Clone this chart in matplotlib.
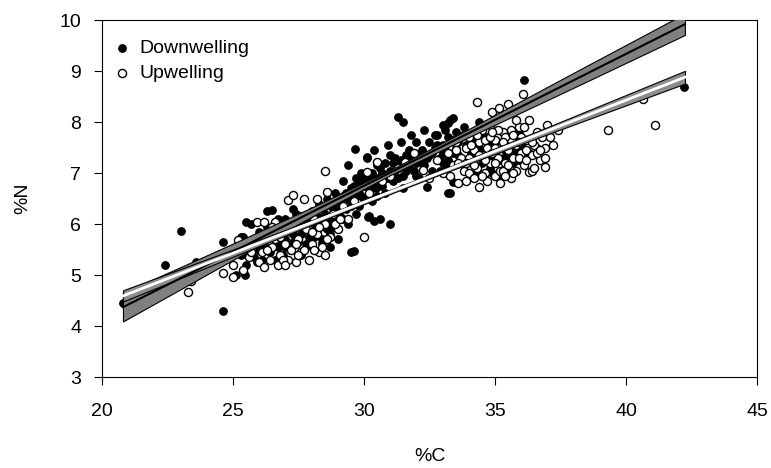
import matplotlib
matplotlib.use("Agg")
import matplotlib.pyplot as plt

plt.rcParams['font.family'] = ['Liberation Sans', 'DejaVu Sans']

# downwelling samples (%C, %N)
down_c = [20.8, 22.4, 23.0, 23.6, 24.1, 24.6, 24.6, 24.9, 25.1, 25.2, 25.3, 25.4, 25.5, 25.6, 25.7,
          25.8, 25.9, 26.0, 26.0, 26.1, 26.2, 26.3, 26.3, 26.4, 26.5, 26.6, 26.6, 26.7, 26.8, 26.9,
          27.0, 27.0, 27.1, 27.2, 27.3, 27.3, 27.4, 27.5, 27.6, 27.6, 27.7, 27.8, 27.9, 28.0, 28.0,
          28.1, 28.2, 28.3, 28.3, 28.4, 28.5, 28.5, 28.6, 28.7, 28.7, 28.8, 28.9, 28.9, 29.0, 29.0,
          29.1, 29.2, 29.2, 29.3, 29.4, 29.4, 29.5, 29.5, 29.6, 29.7, 29.7, 29.8, 29.8, 29.9, 30.0,
          30.0, 30.1, 30.1, 30.2, 30.2, 30.3, 30.4, 30.4, 30.5, 30.5, 30.6, 30.6, 30.7, 30.8, 30.8,
          30.9, 31.0, 31.0, 31.1, 31.2, 31.3, 31.3, 31.4, 31.5, 31.5, 31.6, 31.7, 31.8, 31.9, 32.0,
          32.0, 32.1, 32.2, 32.3, 32.4, 32.5, 32.6, 32.7, 32.8, 32.9, 33.0, 33.0, 33.1, 33.2, 33.2,
          33.3, 33.4, 33.5, 33.6, 33.8, 34.0, 34.1, 34.2, 34.3, 34.4, 34.5, 34.6, 34.7, 34.8, 34.9,
          35.0, 35.1, 35.2, 35.3, 35.4, 35.5, 35.6, 35.7, 35.8, 35.9, 36.0, 36.1, 36.2, 36.4, 36.6,
          37.0, 42.2,
          26.2, 26.8, 27.2, 27.5, 27.8, 28.1, 28.4, 28.6, 28.8, 29.1, 29.3, 29.6, 29.9, 30.2, 30.3,
          30.6, 30.9, 31.1, 31.3, 31.6, 31.8, 32.1, 32.3, 32.6, 32.8, 33.1, 33.4, 33.6, 33.9, 34.1,
          34.4, 34.7, 35.0, 35.3, 35.6, 35.9, 36.3, 34.3, 34.9, 35.5, 33.0, 32.4, 33.3, 33.4, 31.5,
          30.15, 30.4, 29.6, 28.7, 28.4, 29.66, 30.1, 33.4, 33.2, 33.1, 22.5, 23.9, 25.46, 25.5, 26.5,
          25.3]
down_n = [4.45, 5.2, 5.87, 5.25, 5.3, 4.3, 5.65, 5.45, 5.0, 5.6, 5.4, 5.75, 5.2, 5.55, 6.0,
          5.35, 5.7, 5.5, 5.85, 5.3, 5.6, 5.95, 6.25, 5.45, 5.75, 5.3, 6.05, 5.55, 5.85, 5.4,
          6.1, 5.7, 5.95, 5.5, 6.3, 5.8, 6.0, 5.65, 6.15, 5.4, 5.9, 6.05, 5.75, 6.25, 5.55,
          6.0, 5.85, 6.4, 6.1, 5.7, 6.2, 5.95, 6.5, 5.8, 6.05, 6.3, 6.6, 6.0, 5.7, 6.4,
          6.15, 6.55, 6.85, 6.3, 6.0, 7.15, 5.45, 6.7, 6.45, 6.2, 6.9, 6.6, 6.35, 7.0, 6.75,
          6.5, 6.85, 7.3, 6.6, 6.15, 7.0, 6.8, 7.45, 6.9, 6.55, 6.1, 7.1, 6.75, 7.2, 6.95,
          7.55, 6.0, 7.05, 6.85, 7.3, 8.1, 7.15, 7.6, 8.0, 6.95, 7.35, 7.1, 7.75, 7.4, 7.2,
          7.6, 6.9, 7.45, 7.85, 7.3, 7.6, 7.05, 7.5, 7.75, 7.3, 7.95, 7.55, 7.15, 6.6, 7.7,
          8.05, 7.4, 7.8, 7.6, 7.9, 7.5, 7.75, 7.3, 7.6, 8.0, 7.2, 7.45, 7.7, 7.1, 7.35,
          7.55, 6.95, 7.25, 7.5, 7.1, 7.35, 7.6, 7.2, 7.45, 7.8, 7.55, 8.83, 7.3, 7.65, 7.5,
          7.85, 8.68,
          5.7, 5.65, 5.85, 6.0, 5.6, 5.75, 6.1, 5.9, 6.15, 6.45, 6.6, 6.75, 6.55, 6.95, 6.7,
          6.8, 6.9, 7.2, 6.9, 7.05, 7.25, 7.35, 7.15, 7.4, 7.55, 7.45, 7.65, 7.35, 7.55, 7.4,
          7.5, 7.35, 7.4, 7.3, 7.35, 7.25, 7.4, 7.05, 7.0, 7.0, 7.2, 6.73, 6.6, 6.82, 6.7,
          6.14, 6.06, 5.47, 5.55, 5.63, 7.47, 7.31, 8.08, 7.98, 7.85, 4.67, 5.26, 5.0, 6.04, 6.27,
          5.75]
# more downwelling points in the dense band
down_c2 = [26.4, 26.7, 27.0, 27.3, 27.6, 27.9, 28.2, 28.5, 28.8, 29.0, 29.2, 29.5, 29.7, 30.0, 30.3,
           30.5, 30.7, 31.0, 31.2, 31.4, 31.7, 32.0, 32.2, 32.5, 32.7, 33.0, 33.2, 33.5, 33.7, 34.0,
           34.2, 34.5, 34.8, 35.1, 35.4, 35.7, 36.0, 29.4, 28.9, 27.4, 26.9, 26.1, 25.6, 25.9, 30.8,
           31.9, 32.9, 33.8, 29.85, 30.45]
down_n2 = [5.9, 6.1, 5.55, 5.65, 5.8, 6.1, 6.15, 6.35, 5.95, 6.25, 6.1, 6.35, 6.55, 6.9, 6.45,
           7.15, 7.0, 7.35, 6.95, 7.25, 7.45, 6.95, 7.2, 7.35, 7.75, 7.4, 7.25, 7.5, 7.7, 7.25,
           7.65, 7.75, 7.55, 7.6, 7.45, 7.5, 7.25, 6.5, 6.45, 6.2, 6.0, 5.6, 5.45, 5.25, 6.6,
           7.05, 7.05, 7.15, 6.8, 6.7]

# upwelling samples
up_c = [21.2, 23.3, 23.4, 24.6, 25.0, 25.0, 25.2, 25.4, 25.6, 25.8, 25.9, 26.0, 26.1, 26.2, 26.3,
        26.4, 26.5, 26.6, 26.7, 26.8, 26.9, 27.0, 27.1, 27.1, 27.2, 27.3, 27.3, 27.4, 27.5, 27.6,
        27.7, 27.8, 27.9, 28.0, 28.1, 28.2, 28.2, 28.3, 28.4, 28.5, 28.5, 28.6, 28.7, 28.8, 29.0,
        29.2, 29.4, 29.6, 30.0, 30.1, 30.2, 30.5, 30.7, 31.0, 31.3, 31.56, 31.9, 32.25, 32.5, 32.8,
        33.0, 33.2, 33.4, 33.5, 33.6, 33.7, 33.8, 33.9, 34.0, 34.0, 34.1, 34.2, 34.2, 34.3, 34.3,
        34.4, 34.4, 34.5, 34.5, 34.6, 34.7, 34.8, 34.8, 34.9, 34.9, 35.0, 35.0, 35.1, 35.15, 35.2,
        35.2, 35.3, 35.4, 35.5, 35.5, 35.6, 35.6, 35.7, 35.8, 35.8, 35.9, 36.0, 36.07, 36.1, 36.2,
        36.3, 36.3, 36.4, 36.4, 36.5, 36.6, 36.7, 36.9, 36.9, 37.0, 37.4, 39.3, 40.65, 41.1,
        33.3, 33.6, 33.9, 34.1, 34.3, 34.6, 34.7, 35.0, 35.1, 35.3, 35.4, 35.7, 35.9, 36.0, 36.2,
        36.5, 36.6, 36.8, 35.2, 34.5, 34.0, 33.5, 33.8, 34.8, 35.6, 36.1, 35.8, 36.9, 37.2, 37.1,
        25.7, 26.0, 26.3, 26.6, 26.9, 27.2, 27.4, 27.7, 28.0, 28.3, 28.6, 28.9, 29.1, 26.2, 27.0,
        27.9, 28.5,
        34.2, 34.6, 35.0, 35.3, 35.5, 35.9, 36.2, 34.9, 35.7, 36.4, 34.4, 33.9, 36.7, 35.4, 26.5,
        27.5, 28.1, 26.8]
up_n = [4.47, 4.67, 4.88, 5.05, 4.96, 5.2, 5.69, 5.1, 5.35, 5.6, 6.04, 5.25, 5.45, 6.04, 5.75,
        5.3, 5.55, 6.04, 5.2, 5.4, 5.85, 5.6, 6.47, 5.3, 5.5, 6.57, 5.95, 5.25, 5.7, 5.45,
        6.5, 5.9, 5.3, 5.6, 6.1, 6.5, 5.8, 5.45, 5.55, 7.04, 6.0, 6.63, 5.75, 6.2, 5.9,
        6.35, 6.1, 6.45, 5.75, 7.02, 6.6, 7.22, 6.85, 6.95, 7.1, 7.22, 7.39, 7.06, 6.9, 7.25,
        7.0, 7.4, 7.15, 7.6, 6.8, 7.3, 7.05, 7.5, 7.0, 7.7, 7.25, 6.9, 7.45, 8.39, 7.1,
        6.73, 7.6, 7.35, 7.85, 7.0, 7.5, 7.2, 7.95, 8.2, 7.4, 6.95, 7.65, 7.3, 8.27, 7.05,
        7.5, 7.8, 7.2, 8.35, 7.45, 6.9, 7.65, 7.3, 7.55, 7.05, 7.9, 7.4, 8.55, 7.15, 7.65,
        8.04, 7.02, 7.35, 7.04, 7.55, 7.8, 7.25, 7.12, 7.5, 7.94, 7.84, 7.84, 8.45, 7.94,
        6.95, 7.2, 6.85, 7.55, 7.75, 7.65, 6.85, 7.2, 7.85, 7.05, 7.7, 7.0, 7.3, 7.7, 7.25,
        7.1, 7.4, 7.7, 6.8, 6.95, 7.3, 7.45, 7.75, 7.7, 7.85, 7.9, 8.05, 7.3, 7.55, 7.7,
        5.45, 5.65, 5.5, 5.7, 5.3, 5.9, 5.6, 5.5, 5.85, 5.95, 5.7, 6.0, 6.1, 5.15, 5.2,
        6.2, 5.4,
        7.15, 7.25, 7.5, 7.6, 7.15, 7.6, 7.45, 7.8, 7.75, 7.6, 7.35, 7.2, 7.45, 6.95, 5.95,
        5.4, 5.5, 5.75]

# fitted lines with confidence bands, read at a few %C positions
down_fit_c = [20.8, 25.0, 28.0, 31.0, 34.0, 38.24, 42.25]
down_fit_n = [4.37, 5.457, 6.233, 7.009, 7.785, 8.882, 9.919]
down_hw = [0.28, 0.16, 0.09, 0.05, 0.08, 0.15, 0.21]

up_fit_c = [20.8, 25.0, 29.0, 33.0, 37.0, 42.25]
up_fit_n = [4.59, 5.43, 6.23, 7.03, 7.83, 8.88]
up_hw = [0.11, 0.07, 0.04, 0.04, 0.07, 0.125]

fig = plt.figure(figsize=(7.71, 4.68), dpi=100)
ax = fig.add_axes([0.1323, 0.1944, 0.8495, 0.7626])

ax.scatter(down_c + down_c2, down_n + down_n2, s=28, color='black', zorder=3, label='Downwelling')
ax.scatter(up_c, up_n, s=34, facecolors='white', edgecolors='black', linewidths=1.0,
           zorder=3, label='Upwelling')

d_lo = [n - h for n, h in zip(down_fit_n, down_hw)]
d_hi = [n + h for n, h in zip(down_fit_n, down_hw)]
ax.fill_between(down_fit_c, d_lo, d_hi, facecolor='#808080', edgecolor='black',
                linewidth=0.8, zorder=4)
ax.plot(down_fit_c, down_fit_n, color='black', lw=1.5, zorder=5)

u_lo = [n - h for n, h in zip(up_fit_n, up_hw)]
u_hi = [n + h for n, h in zip(up_fit_n, up_hw)]
ax.fill_between(up_fit_c, u_lo, u_hi, facecolor='#8c8c8c', edgecolor='black',
                linewidth=0.8, zorder=4)
ax.plot(up_fit_c, up_fit_n, color='white', lw=2, zorder=5)

ax.set_xlim(20, 45)
ax.set_ylim(3, 10)
ax.set_xticks([20, 25, 30, 35, 40, 45])
ax.set_yticks([3, 4, 5, 6, 7, 8, 9, 10])
ax.tick_params(direction='out', length=6, width=0.8, labelsize=14)
ax.tick_params(axis='x', pad=13)
ax.tick_params(axis='y', pad=9)
for sp in ax.spines.values():
    sp.set_linewidth(0.8)

ax.set_xlabel('%C', fontsize=14, labelpad=20)
ax.set_ylabel('%N', fontsize=14, labelpad=20)

ax.legend(loc='upper left', bbox_to_anchor=(0.004, 0.968), borderaxespad=0, frameon=False,
          fontsize=14, handlelength=1.0, handletextpad=0.4, labelspacing=0.4)

plt.savefig('out.png', dpi=100)
